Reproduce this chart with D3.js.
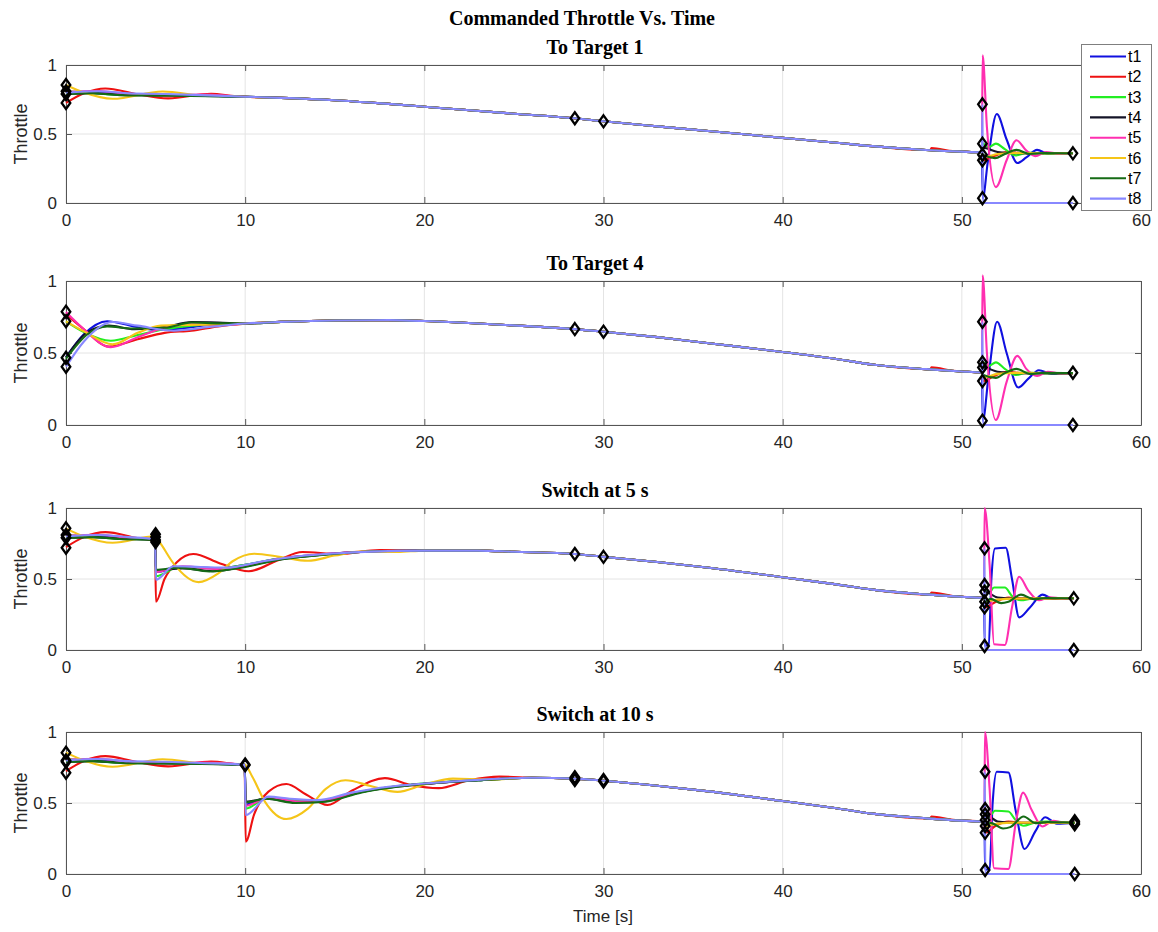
<!DOCTYPE html>
<html>
<head>
<meta charset="utf-8">
<script src="https://cdn.jsdelivr.net/npm/d3@7"></script>
<style>
  body { margin: 0; background: #fff; }
  svg { display: block; }
  .tick text { font-family: "Liberation Sans", Arial, sans-serif; font-size: 17px; fill: #262626; }
  .axis path, .axis line { stroke: #555; }
</style>
</head>
<body>
<svg id="chart" width="1158" height="932"></svg>
<script>
// ---------- data ----------
const seriesNames = ["t1", "t2", "t3", "t4", "t5", "t6", "t7", "t8"];
const seriesColors = ["#1010e0", "#ee1111", "#22ee22", "#141428", "#ff2fb0", "#f5c518", "#156b15", "#8888ff"];
const panelTitles = ["To Target 1", "To Target 4", "Switch at 5 s", "Switch at 10 s"];
const timeTicks = [0, 10, 20, 30, 40, 50, 60];
const throttleTicks = [0, 0.5, 1];

// opening transient toward target 1, t = 0–10 s (one list per series, [time, throttle])
const open = [
  [[0,0.80],[1.2,0.805],[2.8,0.792],[4.5,0.785],[6.5,0.782],[8.5,0.775],[10,0.77]],
  [[0,0.725],[1,0.795],[2.2,0.83],[3.9,0.79],[5.7,0.758],[8.1,0.792],[9.4,0.775],[10,0.77]],
  [[0,0.81],[1.2,0.80],[2.8,0.785],[4.5,0.788],[6.5,0.78],[8.5,0.775],[10,0.77]],
  [[0,0.79],[1.5,0.795],[3,0.785],[5,0.78],[7,0.778],[10,0.77]],
  [[0,0.805],[1.8,0.812],[3.5,0.79],[5.5,0.78],[7.5,0.785],[10,0.77]],
  [[0,0.855],[1,0.80],[2.6,0.755],[5.4,0.808],[7.9,0.776],[9.3,0.775],[10,0.77]],
  [[0,0.79],[1.5,0.795],[3,0.782],[5,0.778],[7,0.776],[10,0.77]],
  [[0,0.80],[1.8,0.81],[3.5,0.795],[5.5,0.79],[7.5,0.782],[10,0.77]]
];

// opening transient toward target 4, t = 0–10 s
const head2 = [
  [[0,0.47],[1,0.63],[2.3,0.72],[3.6,0.69],[5,0.66],[6.5,0.672],[8,0.695],[10,0.705]],
  [[0,0.77],[1,0.665],[2.4,0.545],[4,0.595],[5.5,0.64],[7,0.655],[8.5,0.685],[10,0.703]],
  [[0,0.72],[1,0.645],[2.5,0.585],[4,0.625],[5.5,0.665],[7,0.69],[8.5,0.70],[10,0.705]],
  [[0,0.47],[1.2,0.645],[2.4,0.69],[3.8,0.665],[5.5,0.68],[7,0.715],[8.5,0.712],[10,0.705]],
  [[0,0.785],[1,0.665],[2.5,0.54],[4,0.61],[5.5,0.675],[7,0.70],[8.5,0.695],[10,0.705]],
  [[0,0.72],[1,0.65],[2.6,0.56],[4,0.64],[5.3,0.69],[7,0.695],[8.5,0.70],[10,0.705]],
  [[0,0.46],[1.2,0.63],[2.3,0.685],[3.7,0.67],[5.5,0.675],[7,0.712],[8.5,0.706],[10,0.705]],
  [[0,0.405],[1,0.58],[2.6,0.715],[4,0.69],[6,0.655],[8,0.68],[10,0.705]]
];

// response after the target switch at 5 s
const sw5 = [
  [[4.97,0.777],[5.02,0.55],[6.5,0.585],[8.5,0.575],[10,0.6],[12,0.645],[14,0.67],[16,0.688],[18,0.697],[20,0.70]],
  [[4.97,0.765],[5.02,0.34],[5.5,0.5],[6.2,0.62],[7.1,0.676],[8.6,0.61],[10.2,0.555],[11.8,0.63],[13.2,0.69],[15.2,0.676],[17.5,0.703],[20,0.70]],
  [[4.97,0.777],[5.02,0.52],[6.3,0.585],[8.5,0.575],[10,0.6],[12,0.645],[14,0.668],[16,0.688],[18,0.697],[20,0.70]],
  [[4.97,0.775],[5.02,0.56],[6.5,0.575],[8.2,0.555],[10,0.59],[12,0.64],[14,0.668],[16,0.688],[18,0.697],[20,0.70]],
  [[4.97,0.78],[5.02,0.55],[6.5,0.59],[8.5,0.57],[10,0.595],[12,0.645],[14,0.67],[16,0.69],[18,0.697],[20,0.70]],
  [[4.97,0.80],[5.3,0.745],[6.0,0.61],[7.4,0.478],[8.5,0.54],[9.3,0.625],[10.5,0.678],[12,0.655],[13.5,0.628],[15,0.665],[16.6,0.695],[18.5,0.69],[20,0.70]],
  [[4.97,0.775],[5.02,0.565],[6.3,0.58],[8,0.553],[10,0.585],[12,0.638],[14,0.666],[16,0.687],[18,0.697],[20,0.70]],
  [[4.97,0.78],[5.02,0.495],[6.0,0.59],[7.5,0.585],[9,0.58],[11,0.625],[13,0.66],[15,0.68],[17,0.693],[20,0.70]]
];

// response after the target switch at 10 s
const sw10 = [
  [[9.97,0.77],[10.03,0.49],[11.2,0.535],[12.8,0.51],[14.5,0.52],[16.5,0.58],[18.5,0.618],[20.5,0.64],[23,0.66],[26,0.678]],
  [[9.97,0.768],[10.03,0.227],[10.5,0.42],[11.3,0.58],[12.3,0.634],[13.4,0.56],[14.6,0.486],[16,0.59],[17.8,0.675],[19.3,0.625],[20.8,0.605],[22.5,0.66],[24.2,0.686],[26,0.678]],
  [[9.97,0.77],[10.03,0.46],[11.2,0.535],[12.5,0.525],[14,0.512],[16,0.565],[18,0.61],[20,0.638],[23,0.66],[26,0.678]],
  [[9.97,0.77],[10.03,0.51],[11.2,0.53],[12.8,0.505],[14.5,0.515],[16.5,0.578],[18.5,0.616],[20.5,0.64],[23,0.66],[26,0.678]],
  [[9.97,0.77],[10.03,0.48],[11.3,0.54],[13,0.51],[14.7,0.525],[16.5,0.58],[18.5,0.618],[20.5,0.64],[23,0.662],[26,0.678]],
  [[9.97,0.77],[10.4,0.685],[11.1,0.51],[12.3,0.387],[13.5,0.46],[14.5,0.6],[15.6,0.66],[17,0.62],[18.5,0.578],[20,0.63],[21.6,0.672],[23.5,0.665],[26,0.678]],
  [[9.97,0.77],[10.03,0.505],[11.2,0.53],[12.8,0.5],[14.5,0.51],[16.5,0.575],[18.5,0.615],[20.5,0.64],[23,0.66],[26,0.678]],
  [[9.97,0.77],[10.03,0.415],[11.3,0.545],[12.5,0.53],[14,0.52],[16,0.575],[18,0.615],[20,0.637],[22,0.655],[26,0.678]]
];

// common cruise profile of each run
const cruise1 = [[12,0.762],[15,0.745],[18,0.718],[20,0.698],[22,0.677],[25,0.647],[28.4,0.614],[30,0.592],[33,0.555],[36,0.52],[40,0.472],[43,0.437],[45,0.412],[48,0.384],[50,0.372],[51.1,0.368]];
const cruise2 = [[12,0.716],[15,0.726],[18,0.728],[20,0.722],[23,0.705],[26,0.685],[28.4,0.666],[30,0.648],[33,0.61],[36,0.566],[40,0.507],[43,0.458],[45,0.42],[48,0.388],[50,0.372],[51.1,0.365]];
const cruise3 = [[23,0.70],[25,0.692],[28.4,0.676],[30,0.656],[33,0.62],[36,0.578],[40,0.512],[43,0.462],[45,0.425],[48,0.392],[50,0.375],[51.2,0.368]];
const cruise4 = [[28.4,0.672],[30,0.657],[33,0.622],[36,0.58],[40,0.514],[43,0.463],[45,0.425],[48,0.392],[50,0.376],[51.2,0.37]];

// terminal phase of each run
const tail1 = [
  [[51.12,0.368],[51.17,0.035],[51.45,0.3],[51.95,0.645],[52.5,0.46],[53.1,0.29],[53.6,0.33],[54.2,0.385],[54.8,0.358],[55.5,0.362],[56.2,0.36]],
  [[48.25,0.384],[48.3,0.398],[49.5,0.376],[50.5,0.37],[51.12,0.368],[51.17,0.31],[51.8,0.34],[52.5,0.37],[53.5,0.36],[56.2,0.36]],
  [[51.12,0.368],[51.17,0.43],[51.5,0.405],[51.9,0.43],[52.4,0.39],[53.0,0.345],[53.7,0.365],[54.5,0.358],[56.2,0.36]],
  [[51.12,0.368],[51.17,0.40],[52,0.37],[53,0.36],[56.2,0.36]],
  [[51.12,0.368],[51.16,1.07],[51.4,0.55],[51.9,0.115],[52.5,0.31],[53.05,0.455],[53.6,0.38],[54.1,0.34],[54.7,0.37],[55.4,0.358],[56.2,0.36]],
  [[51.12,0.368],[51.17,0.33],[52,0.355],[53,0.362],[56.2,0.36]],
  [[51.12,0.368],[51.17,0.35],[51.85,0.325],[52.4,0.355],[53.05,0.385],[53.8,0.355],[54.6,0.362],[56.2,0.36]],
  [[51.12,0.368],[51.15,0.715],[51.18,0],[56.2,0]]
];
const tail2 = [
  [[51.12,0.365],[51.17,0.03],[51.5,0.35],[51.97,0.717],[52.5,0.5],[53.15,0.26],[53.7,0.32],[54.3,0.38],[55,0.355],[56.2,0.36]],
  [[48.25,0.388],[48.3,0.40],[49.5,0.377],[50.5,0.368],[51.12,0.365],[51.17,0.305],[51.8,0.34],[52.5,0.37],[53.5,0.36],[56.2,0.36]],
  [[51.12,0.365],[51.17,0.435],[51.5,0.41],[51.9,0.435],[52.4,0.39],[53.0,0.347],[53.7,0.365],[54.5,0.358],[56.2,0.36]],
  [[51.12,0.365],[51.17,0.40],[52,0.37],[53,0.36],[56.2,0.36]],
  [[51.12,0.365],[51.16,1.04],[51.4,0.5],[51.9,0.035],[52.5,0.3],[53.1,0.48],[53.6,0.39],[54.2,0.34],[54.8,0.37],[55.5,0.358],[56.2,0.36]],
  [[51.12,0.365],[51.17,0.33],[52,0.355],[53,0.362],[56.2,0.36]],
  [[51.12,0.365],[51.17,0.35],[51.9,0.327],[52.4,0.36],[53.05,0.39],[53.8,0.355],[54.6,0.362],[56.2,0.36]],
  [[51.12,0.365],[51.15,0.717],[51.18,0],[56.2,0]]
];
const tail3 = [
  [[51.24,0.368],[51.28,0.03],[51.5,0.04],[51.65,0.5],[51.85,0.715],[52.45,0.72],[52.8,0.5],[53.2,0.23],[53.8,0.3],[54.5,0.39],[55.1,0.36],[56.25,0.364]],
  [[48.25,0.392],[48.3,0.405],[49.5,0.38],[50.5,0.372],[51.24,0.368],[51.28,0.30],[51.9,0.34],[52.6,0.37],[53.5,0.362],[56.25,0.364]],
  [[51.24,0.368],[51.28,0.458],[51.5,0.40],[51.8,0.44],[52.4,0.44],[52.8,0.38],[53.3,0.35],[53.9,0.362],[54.6,0.366],[56.25,0.364]],
  [[51.24,0.368],[51.28,0.41],[52,0.37],[53,0.362],[56.25,0.364]],
  [[51.24,0.368],[51.27,1.0],[51.55,0.6],[51.8,0.04],[52.4,0.035],[52.8,0.3],[53.2,0.516],[53.7,0.42],[54.3,0.35],[54.9,0.372],[55.6,0.362],[56.25,0.364]],
  [[51.24,0.368],[51.28,0.34],[52,0.355],[53,0.362],[56.25,0.364]],
  [[51.24,0.368],[51.28,0.34],[51.6,0.36],[52.2,0.33],[52.6,0.34],[53.3,0.39],[54,0.358],[54.7,0.366],[56.25,0.364]],
  [[51.24,0.368],[51.26,0.716],[51.29,0],[56.25,0]]
];
const tail4 = [
  [[51.26,0.37],[51.3,0.03],[51.55,0.04],[51.72,0.5],[51.95,0.72],[52.6,0.715],[53.0,0.45],[53.5,0.176],[54.1,0.3],[54.65,0.4],[55.3,0.355],[56.3,0.36]],
  [[48.25,0.392],[48.3,0.405],[49.5,0.382],[50.5,0.374],[51.26,0.37],[51.3,0.29],[51.9,0.34],[52.6,0.37],[53.5,0.36],[56.3,0.36]],
  [[51.26,0.37],[51.3,0.458],[51.5,0.40],[51.85,0.445],[52.6,0.44],[53.0,0.38],[53.45,0.34],[54,0.36],[54.7,0.37],[56.3,0.36]],
  [[51.26,0.37],[51.3,0.42],[52,0.37],[53,0.36],[56.3,0.36]],
  [[51.26,0.37],[51.29,1.0],[51.55,0.6],[51.8,0.04],[52.6,0.035],[53.0,0.35],[53.42,0.573],[53.9,0.45],[54.5,0.335],[55.1,0.375],[55.7,0.36],[56.3,0.36]],
  [[51.26,0.37],[51.3,0.338],[52,0.355],[53,0.362],[56.3,0.36]],
  [[51.26,0.37],[51.3,0.34],[51.6,0.36],[52.3,0.32],[52.7,0.33],[53.45,0.405],[54.1,0.358],[54.8,0.366],[56.3,0.36]],
  [[51.26,0.37],[51.28,0.72],[51.31,0],[56.3,0]]
];

// waypoint markers ([time, throttle])
const marks1 = [[0,0.855],[0,0.81],[0,0.79],[0,0.725],[28.4,0.614],[30,0.592],[51.15,0.715],[51.15,0.43],[51.15,0.35],[51.15,0.31],[51.15,0.035],[56.2,0.36],[56.2,0]];
const marks2 = [[0,0.787],[0,0.72],[0,0.467],[0,0.405],[28.4,0.666],[30,0.648],[51.15,0.717],[51.15,0.435],[51.15,0.40],[51.15,0.305],[51.15,0.03],[56.2,0.363],[56.2,0]];
const marks3 = [[0,0.857],[0,0.81],[0,0.79],[0,0.72],[5,0.815],[5,0.795],[5,0.775],[5,0.76],[28.4,0.676],[30,0.656],[51.27,0.716],[51.27,0.458],[51.27,0.41],[51.27,0.34],[51.27,0.30],[51.27,0.028],[56.25,0.364],[56.25,0]];
const marks4 = [[0,0.854],[0,0.80],[0,0.79],[0,0.713],[10,0.772],[10,0.765],[28.4,0.682],[28.4,0.672],[28.4,0.662],[30,0.662],[30,0.652],[51.3,0.72],[51.3,0.458],[51.3,0.42],[51.3,0.38],[51.3,0.338],[51.3,0.29],[51.3,0.028],[56.3,0.372],[56.3,0.36],[56.3,0.35],[56.3,0]];

// ---------- assemble full trajectories ----------
function join(head, cruise, tail) {
  const t0 = head[head.length - 1][0], t1 = tail[0][0];
  return head.concat(cruise.filter(p => p[0] > t0 && p[0] < t1), tail);
}
function beforeSwitch(series, sw) {
  return series.filter(p => p[0] < sw[0][0]).concat(sw);
}
const runs = [
  seriesNames.map((_, i) => join(open[i], cruise1, tail1[i])),
  seriesNames.map((_, i) => join(head2[i], cruise2, tail2[i])),
  seriesNames.map((_, i) => join(beforeSwitch(open[i], sw5[i]), cruise3, tail3[i])),
  seriesNames.map((_, i) => join(beforeSwitch(open[i], sw10[i]), cruise4, tail4[i]))
];
const runMarks = [marks1, marks2, marks3, marks4];

// ---------- drawing ----------
const svg = d3.select("#chart");
svg.append("rect").attr("width", 1158).attr("height", 932).attr("fill", "#fff");

const x = d3.scaleLinear().domain([0, 60]).range([66, 1141]);
const frames = [[65, 203], [281, 425], [508, 650], [732, 874]];
const diamond = "M0,-6L4.3,0L0,6L-4.3,0Z";

svg.append("text")
  .attr("x", 582).attr("y", 25)
  .attr("text-anchor", "middle")
  .style("font-family", "'Liberation Serif', 'Times New Roman', serif")
  .style("font-weight", "bold").style("font-size", "20px")
  .text("Commanded Throttle Vs. Time");

runs.forEach((run, k) => {
  const [top, bottom] = frames[k];
  const y = d3.scaleLinear().domain([0, 1]).range([bottom, top]);
  const g = svg.append("g");

  // grid
  g.append("g").selectAll("line").data(timeTicks).join("line")
    .attr("x1", d => x(d)).attr("x2", d => x(d))
    .attr("y1", top).attr("y2", bottom)
    .attr("stroke", "#e4e4e4").attr("stroke-width", 1);
  g.append("g").selectAll("line").data(throttleTicks).join("line")
    .attr("x1", x.range()[0]).attr("x2", x.range()[1])
    .attr("y1", d => y(d)).attr("y2", d => y(d))
    .attr("stroke", "#e4e4e4").attr("stroke-width", 1);

  // axes with inward ticks, boxed
  g.append("g").attr("class", "axis").attr("transform", `translate(0,${bottom})`)
    .call(d3.axisBottom(x).tickValues(timeTicks).tickSizeInner(-6).tickSizeOuter(0).tickPadding(11));
  g.append("g").attr("class", "axis").attr("transform", `translate(0,${top})`)
    .call(d3.axisTop(x).tickValues(timeTicks).tickSizeInner(-6).tickSizeOuter(0).tickFormat(""));
  g.append("g").attr("class", "axis").attr("transform", `translate(${x.range()[0]},0)`)
    .call(d3.axisLeft(y).tickValues(throttleTicks).tickSizeInner(-6).tickSizeOuter(0).tickPadding(9).tickFormat(d3.format("~g")));
  g.append("g").attr("class", "axis").attr("transform", `translate(${x.range()[1]},0)`)
    .call(d3.axisRight(y).tickValues(throttleTicks).tickSizeInner(-6).tickSizeOuter(0).tickFormat(""));

  // series
  const line = d3.line().x(d => x(d[0])).y(d => y(d[1])).curve(d3.curveMonotoneX);
  g.append("g").selectAll("path").data(run).join("path")
    .attr("d", line)
    .attr("fill", "none")
    .attr("stroke", (d, i) => seriesColors[i])
    .attr("stroke-width", 2.1)
    .attr("stroke-linejoin", "round");

  // waypoint markers
  g.append("g").selectAll("path").data(runMarks[k]).join("path")
    .attr("d", diamond)
    .attr("transform", d => `translate(${x(d[0])},${y(d[1])})`)
    .attr("fill", "none").attr("stroke", "#000").attr("stroke-width", 2.3);

  // labels
  g.append("text")
    .attr("x", 595).attr("y", top - 11)
    .attr("text-anchor", "middle")
    .style("font-family", "'Liberation Serif', 'Times New Roman', serif")
    .style("font-weight", "bold").style("font-size", "20px")
    .text(panelTitles[k]);
  g.append("text")
    .attr("transform", `translate(26.5,${(top + bottom) / 2}) rotate(-90)`)
    .attr("text-anchor", "middle")
    .style("font-family", "'Liberation Sans', Arial, sans-serif")
    .style("font-size", "18px").style("fill", "#262626")
    .text("Throttle");
});

svg.append("text")
  .attr("x", 603).attr("y", 922)
  .attr("text-anchor", "middle")
  .style("font-family", "'Liberation Sans', Arial, sans-serif")
  .style("font-size", "17px").style("fill", "#262626")
  .text("Time [s]");

// legend
const legend = svg.append("g");
legend.append("rect")
  .attr("x", 1081.5).attr("y", 44.5).attr("width", 70).attr("height", 166)
  .attr("fill", "#fff").attr("stroke", "#7f7f7f").attr("stroke-width", 1);
const entries = legend.selectAll("g.entry").data(seriesNames).join("g")
  .attr("class", "entry")
  .attr("transform", (d, i) => `translate(0,${56.5 + i * 20.3})`);
entries.append("line")
  .attr("x1", 1090).attr("x2", 1126).attr("y1", 0).attr("y2", 0)
  .attr("stroke", (d, i) => seriesColors[i]).attr("stroke-width", 2.1);
entries.append("text")
  .attr("x", 1128).attr("y", 0).attr("dy", "0.35em")
  .style("font-family", "'Liberation Sans', Arial, sans-serif")
  .style("font-size", "16px").style("fill", "#000")
  .text(d => d);
</script>
</body>
</html>
